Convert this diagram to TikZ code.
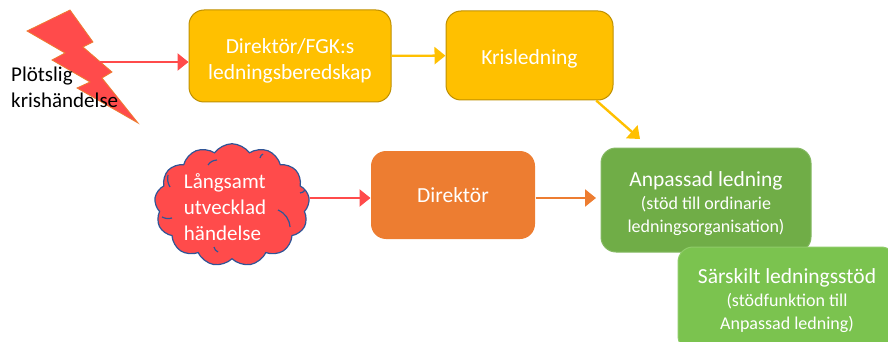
\documentclass[tikz,border=0pt]{standalone}
\usepackage{fontspec}
\setmainfont{Carlito}
\usetikzlibrary{arrows.meta,shapes.symbols}
\definecolor{krisred}{HTML}{FF4B4B}
\definecolor{krisyellow}{HTML}{FFC000}
\definecolor{krisorange}{HTML}{ED7D31}
\definecolor{krisgreen}{HTML}{70AD47}
\definecolor{stodgreen}{HTML}{7BC34F}
\definecolor{cloudblue}{HTML}{2F5597}
\newcommand{\subfont}{\fontsize{18}{23}\selectfont}
\tikzset{
  box/.style={rounded corners=15pt, align=center, text=white, line width=1pt,
    font=\fontsize{21.5}{26}\selectfont, inner sep=0pt},
  link/.style={line width=2.4pt, -{Triangle[length=11pt, width=17pt]}},
}

\begin{document}
\begin{tikzpicture}[x=1pt, y=-1pt]
    \useasboundingbox (0, 0) rectangle (888, 342);

    % lightning
    \fill [krisred, draw=krisorange, line width=0.8pt]
      (70, 10) -- (93, 42) -- (83, 47) -- (112, 72) -- (102, 78) -- (138, 123)
      -- (77, 88) -- (90, 82) -- (52, 60) -- (65, 53) -- (27, 31) -- cycle;
    \coordinate (bolt) at (100, 62);
    \node [align=left, anchor=west, inner sep=0pt, font=\fontsize{21}{26}\selectfont] (plotslig)
      at (11, 87) {Plötslig\\krishändelse};

    % top row
    \node [box, fill=krisyellow, draw=krisyellow!75!black, minimum width=202pt, minimum height=92pt]
      (beredskap) at (290, 56) {\rule{0pt}{25pt}Direktör/FGK:s\\ledningsberedskap};
    \node [box, fill=krisyellow, draw=krisyellow!75!black, minimum width=167pt, minimum height=89pt]
      (kris) at (529.5, 55.5) {\rule{0pt}{21pt}Krisledning};

    % middle row
    \node [cloud, cloud puffs=13, cloud puff arc=110, aspect=1.25, fill=krisred, draw=cloudblue,
      line width=1.2pt, text=white, align=left, inner sep=0pt, minimum width=155pt, minimum height=115pt,
      font=\fontsize{21}{26}\selectfont]
      (langsamt) at (232, 205) {\rule{0pt}{20pt}Långsamt\\utvecklad\rule{14pt}{0pt}\\händelse};
    % inner arcs of the cloud
    \draw [cloudblue, line width=1.2pt]
      (278, 210) to[bend left=30] (290, 227)
      (162, 217) to[bend right=20] (172, 218)
      (170, 187) to[bend left=20] (168, 175)
      (208, 165) to[bend left=25] (217, 160)
      (260, 158) to[bend left=25] (263, 154)
      (300, 193) to[bend right=25] (305, 190)
      (214, 247) to[bend right=25] (218, 252);
    \node [box, fill=krisorange, minimum width=164pt, minimum height=88pt]
      (direktor) at (453, 195) {Direktör};
    \node [box, fill=krisgreen, draw=krisgreen!85!white, minimum width=210pt, minimum height=104pt]
      (anpassad) at (706, 200)
      {\rule{0pt}{23pt}Anpassad ledning\\[-3pt]\subfont (stöd till ordinarie\\[-3pt]\subfont ledningsorganisation)};

    % support, runs off the page
    \node [box, fill=stodgreen, draw=stodgreen!85!white, minimum width=218pt, minimum height=104pt]
      (sarskilt) at (787, 299)
      {\rule{0pt}{18pt}Särskilt ledningsstöd\\[-3pt]\subfont (stödfunktion till\\[-3pt]\subfont Anpassad ledning)};

    % arrows
    \coordinate (kristip) at (640, 139);
    \draw [link, krisred] (bolt) -- (beredskap.west |- bolt);
    \draw [link, krisyellow] (beredskap) -- (kris);
    \draw [link, krisyellow] (kris.-34) -- (kristip);
    \coordinate (cloudout) at (310, 198);
    \draw [link, krisred] (cloudout) -- (direktor.west |- cloudout);
    \coordinate (anptip) at (596, 198);
    \draw [link, krisorange] (direktor.east |- anptip) -- (anptip);
\end{tikzpicture}
\end{document}
